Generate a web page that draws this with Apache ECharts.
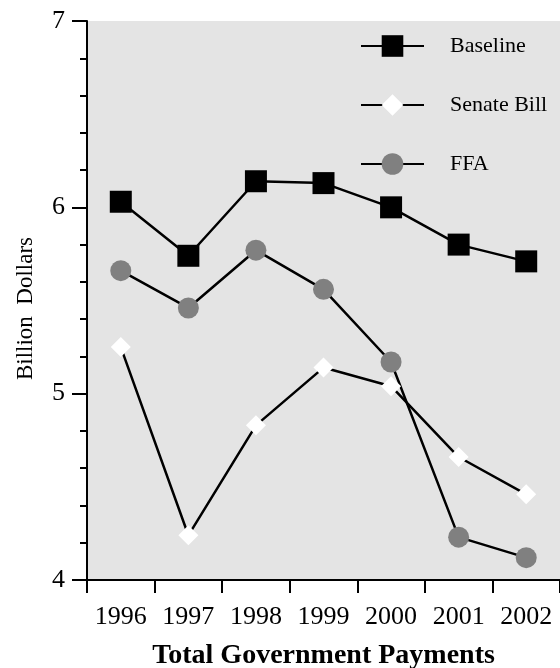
<!DOCTYPE html>
<html>
<head>
<meta charset="utf-8">
<script src="https://cdn.jsdelivr.net/npm/echarts@6/dist/echarts.min.js"></script>
<style>
  html, body { margin: 0; padding: 0; background: #fff; }
  #chart { width: 560px; height: 668px; }
</style>
</head>
<body>
<div id="chart"></div>
<script>
// values
const years = ['1996', '1997', '1998', '1999', '2000', '2001', '2002'];
const baseline = [6.03, 5.74, 6.14, 6.13, 6.00, 5.80, 5.71];
const senateBill = [5.25, 4.24, 4.83, 5.14, 5.04, 4.66, 4.46];
const ffa = [5.66, 5.46, 5.77, 5.56, 5.17, 4.23, 4.12];

const serif = 'Liberation Serif';

const chart = echarts.init(document.getElementById('chart'));

chart.setOption({
  animation: false,
  grid: {
    left: 87, right: 0, top: 21, bottom: 88,
    outerBoundsMode: 'none',
    show: true, backgroundColor: '#e4e4e4', borderWidth: 0
  },
  legend: {
    orient: 'vertical',
    left: 355, top: 30,
    itemWidth: 63, itemHeight: 27, itemGap: 37,
    textStyle: { fontFamily: serif, fontSize: 22, color: '#000', padding: [0, 0, 0, 21] },
    data: ['Baseline', 'Senate Bill', 'FFA']
  },
  xAxis: {
    type: 'category',
    data: years,
    boundaryGap: true,
    name: 'Total Government Payments',
    nameLocation: 'middle',
    nameGap: 62,
    nameTextStyle: { fontFamily: serif, fontSize: 28, fontWeight: 'bold', color: '#000' },
    axisLine: { lineStyle: { color: '#000', width: 2 } },
    axisTick: { show: true, interval: 0, length: 13, lineStyle: { color: '#000', width: 2 } },
    axisLabel: { interval: 0, fontFamily: serif, fontSize: 26, color: '#000', margin: 24 },
    splitLine: { show: false }
  },
  yAxis: {
    type: 'value',
    min: 4, max: 7, interval: 1,
    name: 'Billion  Dollars',
    nameLocation: 'middle',
    nameGap: 50,
    nameTextStyle: { fontFamily: serif, fontSize: 23, color: '#000', padding: [0, 16, 0, 0] },
    axisLine: { show: true, lineStyle: { color: '#000', width: 2 } },
    axisTick: { show: true, length: 15, lineStyle: { color: '#000', width: 2 } },
    minorTick: { show: true, splitNumber: 5, length: 7, lineStyle: { color: '#000', width: 2 } },
    axisLabel: { fontFamily: serif, fontSize: 26, color: '#000', margin: 22 },
    splitLine: { show: false },
    minorSplitLine: { show: false }
  },
  series: [
    {
      name: 'Baseline', type: 'line', data: baseline,
      symbol: 'rect', symbolSize: 22,
      itemStyle: { color: '#000' },
      lineStyle: { color: '#000', width: 2.5 }
    },
    {
      name: 'Senate Bill', type: 'line', data: senateBill,
      symbol: 'diamond', symbolSize: 20,
      itemStyle: { color: '#fff', borderWidth: 0 },
      lineStyle: { color: '#000', width: 2.5 }
    },
    {
      name: 'FFA', type: 'line', data: ffa,
      symbol: 'circle', symbolSize: 21,
      itemStyle: { color: '#808080' },
      lineStyle: { color: '#000', width: 2.5 }
    }
  ]
});
</script>
</body>
</html>
